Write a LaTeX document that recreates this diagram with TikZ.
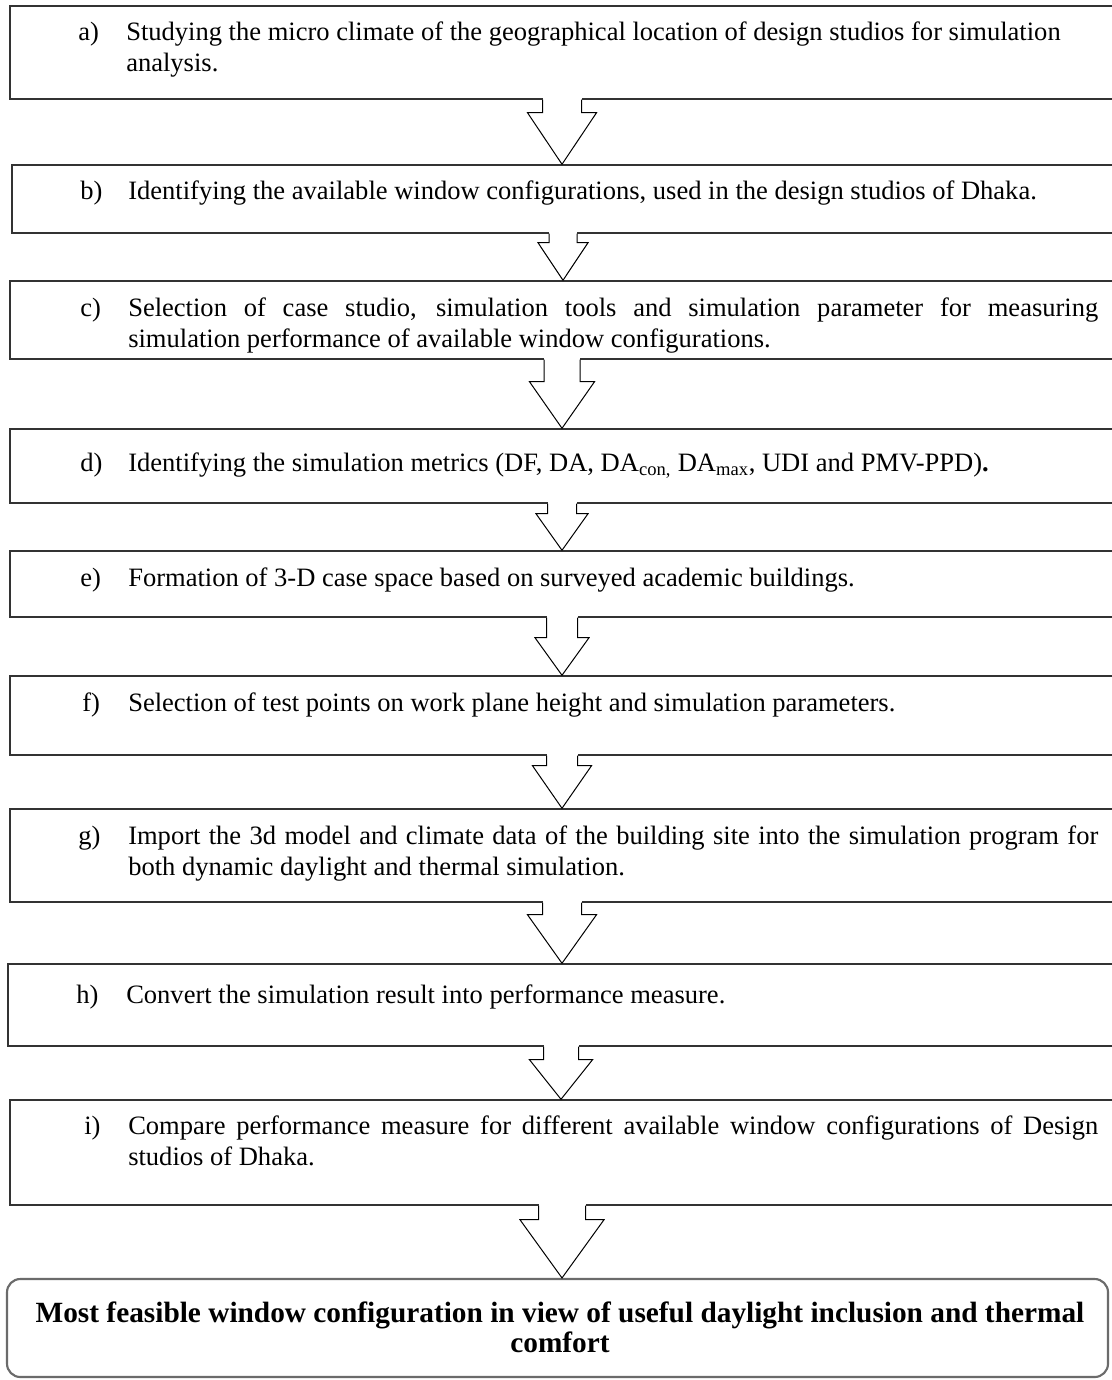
\documentclass[tikz,border=0pt]{standalone}
\usepackage{fontspec}
\setmainfont{Liberation Serif}
\usetikzlibrary{calc,fit}
\newcommand\bodyfont{\fontsize{19.9pt}{23.25pt}\selectfont}
\newcommand\finfont{\fontsize{22pt}{22.5pt}\selectfont\bfseries}
\newcommand\parblock[1]{\parbox[t]{727.5pt}{\hyphenpenalty=10000 \exhyphenpenalty=10000
  \spaceskip=\fontdimen2\font plus \fontdimen3\font minus 0pt #1}}
\newcommand\flowarrow[5]{%
  \fill[white] ($(#1.south)+(-#3,-2)$) rectangle ($(#1.south)+(#3,2)$);
  \draw[flow] ($(#1.south)+(-#3,0)$) -- ($(#1.south)+(-#3,#5)$) -- ($(#1.south)+(-#4,#5)$)
     -- (#1.south |- #2.north) -- ($(#1.south)+(#4,#5)$) -- ($(#1.south)+(#3,#5)$) -- ($(#1.south)+(#3,0)$);
}
\definecolor{boxline}{HTML}{333333}
\definecolor{finline}{HTML}{6B6B6B}
\begin{document}
\begin{tikzpicture}[x=0.75pt,y=-0.75pt,
  stepbox/.style={draw=boxline, line width=1.1pt, rectangle, inner sep=0pt},
  finbox/.style={draw=finline, line width=1.6pt, rectangle, rounded corners=10pt, inner sep=0pt},
  lbl/.style={anchor=base west, inner sep=0pt, font=\bodyfont},
  body/.style={anchor=base west, inner sep=0pt, font=\bodyfont},
  flow/.style={draw=black, line width=0.75pt, fill=white, line join=miter}]
\useasboundingbox (0,0) rectangle (1112,1380);
\clip (0,0) rectangle (1112,1380);

% boxes
\node[stepbox, fit={(10,6) (1114,99)}] (a) {};
\node[stepbox, fit={(12,165) (1114,233)}] (b) {};
\node[stepbox, fit={(10,281) (1114,359)}] (c) {};
\node[stepbox, fit={(10,429) (1114,503)}] (d) {};
\node[stepbox, fit={(10,551) (1114,617)}] (e) {};
\node[stepbox, fit={(10,676) (1114,755)}] (f) {};
\node[stepbox, fit={(10,809) (1114,902)}] (g) {};
\node[stepbox, fit={(8,964) (1114,1046)}] (h) {};
\node[stepbox, fit={(10,1100) (1114,1205)}] (i) {};
\node[finbox, fit={(7,1279) (1108,1377)}] (fin) {};

% arrows
\flowarrow{a}{b}{19.5}{34.5}{13}
\flowarrow{b}{c}{14}{25}{9}
\flowarrow{c}{d}{18}{32.5}{22}
\flowarrow{d}{e}{14.5}{26}{10}
\flowarrow{e}{f}{15.5}{27}{20}
\flowarrow{f}{g}{15.5}{29.5}{10}
\flowarrow{g}{h}{19.5}{34.5}{12}
\flowarrow{h}{i}{17.5}{31.5}{13}
\flowarrow{i}{fin}{23.5}{42}{14}

% texts
\node[lbl] (a-l) at (78,41) {a)};
\node[body] (a-t) at (126,41) {\parblock{\raggedright Studying the micro climate of the geographical location of design studios for simulation analysis.}};
\node[lbl] (b-l) at (80,200) {b)};
\node[body] (b-t) at (128,200) {Identifying the available window configurations, used in the design studios of Dhaka.};
\node[lbl] (c-l) at (80,316) {c)};
\node[body] (c-t) at (128,316) {\parblock{Selection of case studio, simulation tools and simulation parameter for measuring simulation performance of available window configurations.}};
\node[lbl] (d-l) at (80,471) {d)};
\node[body] (d-t) at (128,471) {Identifying the simulation metrics (DF, DA, DA\textsubscript{con,} DA\textsubscript{max}, UDI and PMV-PPD)\textbf{.}};
\node[lbl] (e-l) at (80,586) {e)};
\node[body] (e-t) at (128,586) {Formation of 3-D case space based on surveyed academic buildings.};
\node[lbl] (f-l) at (82,711) {f)};
\node[body] (f-t) at (128,711) {Selection of test points on work plane height and simulation parameters.};
\node[lbl] (g-l) at (78,844) {g)};
\node[body] (g-t) at (128,844) {\parblock{Import the 3d model and climate data of the building site into the simulation program for both dynamic daylight and thermal simulation.}};
\node[lbl] (h-l) at (76,1003) {h)};
\node[body] (h-t) at (126,1003) {Convert the simulation result into performance measure.};
\node[lbl] (i-l) at (84,1134) {i)};
\node[body] (i-t) at (128,1134) {\parblock{Compare performance measure for different available window configurations of Design studios of Dhaka.}};
\node[anchor=base, inner sep=0pt, font=\finfont] (fin-t) at (560,1322) {\parbox[t]{795pt}{\centering Most feasible window configuration in view of useful daylight inclusion and thermal comfort}};
\end{tikzpicture}
\end{document}
